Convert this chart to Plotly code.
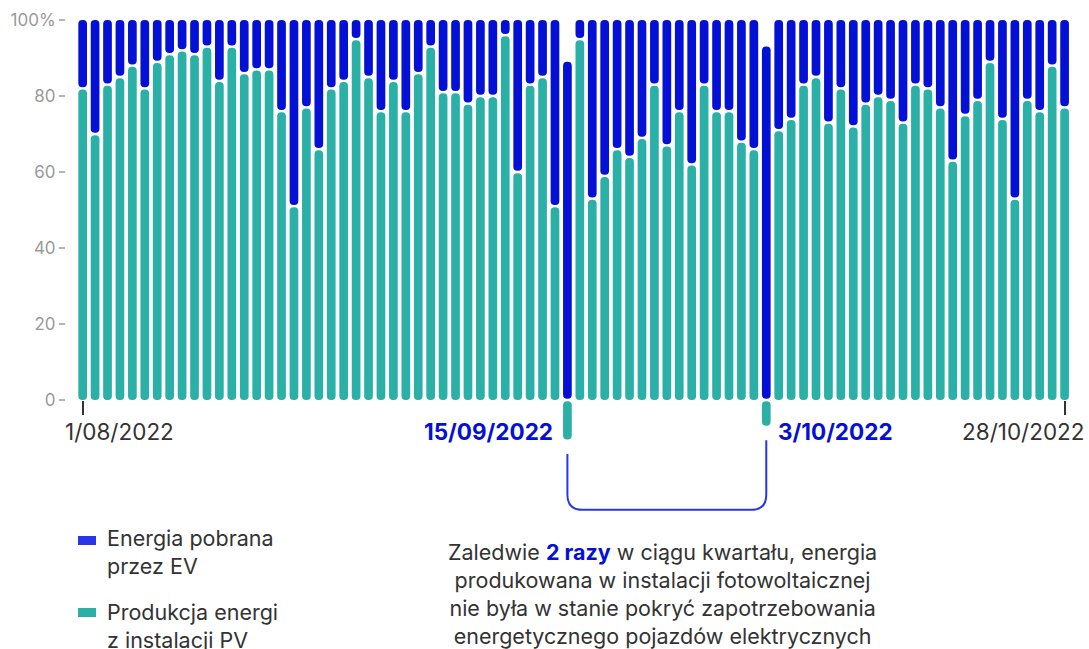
import plotly.graph_objects as go

# Daily share of EV charging energy covered by PV production (%)
days = list(range(80))
pv_share = [82, 70, 83, 85, 88, 82, 89, 91, 92, 91, 93, 84, 93, 86, 87, 87, 76, 51, 77, 66,
            82, 84, 95, 85, 76, 84, 76, 86, 93, 81, 81, 78, 80, 80, 96, 60, 83, 85, 51, -10.4,
            95, 53, 59, 66, 64, 69, 83, 67, 76, 62, 83, 76, 76, 68, 66, -6.8, 71, 74, 83, 85,
            73, 82, 72, 78, 80, 79, 73, 83, 82, 77, 63, 75, 79, 89, 74, 53, 79, 76, 88, 77]
# Top of the EV energy bar (%)
ev_top = [100, 100, 100, 100, 100, 100, 100, 100, 100, 100, 100, 100, 100, 100, 100, 100, 100, 100, 100, 100,
          100, 100, 100, 100, 100, 100, 100, 100, 100, 100, 100, 100, 100, 100, 100, 100, 100, 100, 100, 89,
          100, 100, 100, 100, 100, 100, 100, 100, 100, 100, 100, 100, 100, 100, 100, 93, 100, 100, 100, 100,
          100, 100, 100, 100, 100, 100, 100, 100, 100, 100, 100, 100, 100, 100, 100, 100, 100, 100, 100, 100]

date_idx = [0, 39, 55, 79]
date_labels = ["1/08/2022", "15/09/2022", "3/10/2022", "28/10/2022"]
y_ticks = [0, 20, 40, 60, 80, 100]
y_tick_text = ["0", "20", "40", "60", "80", "100%"]

TEAL = "#2bb0a7"
BLUE = "#0410d4"
BLUE_LIGHT = "#2537e6"
TXT = "#333333"
FONT = "Inter, 'Open Sans', sans-serif"

# figure geometry
W, H = 1089, 649
ML, MR, MT, MB = 66, 9, 15, 129
PW, PH = W - ML - MR, H - MT - MB
X_RANGE = [-1.34, 80.24]
Y_RANGE = [-31.58, 101.32]


def paper_x(px):
    return (px - ML) / PW


def paper_y(px):
    return (MT + PH - px) / PH


# split every day into a PV pill and an EV pill with a small gap between them
GAP = 0.3
teal_lo, teal_hi, blue_lo, blue_hi = [], [], [], []
for v, top in zip(pv_share, ev_top):
    lo, hi = min(v, 0), max(v, 0)
    teal_lo.append(lo)
    teal_hi.append(hi - GAP)
    blue_lo.append(hi + GAP)
    blue_hi.append(top)


def pill_trace(lo, hi, color, name):
    # bars drawn from an explicit base get both ends rounded -> pill shape
    return go.Bar(x=days, base=lo, y=[b - a for a, b in zip(lo, hi)], width=0.7,
                  name=name, showlegend=False,
                  marker=dict(color=color, cornerradius="50%", line=dict(width=0)),
                  hovertemplate="%{x}: %{base:.0f}–%{y:.0f}<extra>" + name + "</extra>")


fig = go.Figure()
fig.add_trace(pill_trace(teal_lo, teal_hi, TEAL, "Produkcja energi z instalacji PV"))
fig.add_trace(pill_trace(blue_lo, blue_hi, BLUE, "Energia pobrana przez EV"))

fig.update_layout(
    width=W, height=H,
    margin=dict(l=ML, r=MR, t=MT, b=MB),
    barmode="overlay",
    plot_bgcolor="white", paper_bgcolor="white",
    font=dict(family=FONT, color=TXT),
    xaxis=dict(range=X_RANGE, showgrid=False, zeroline=False, showline=False,
               tickvals=[date_idx[0], date_idx[-1]], showticklabels=False,
               ticks="outside", ticklen=14, tickwidth=1.5, tickcolor=TXT,
               anchor="free", position=paper_y(400)),
    yaxis=dict(range=Y_RANGE, showgrid=False, zeroline=False, showline=False,
               tickvals=y_ticks, ticktext=y_tick_text,
               ticks="outside", ticklen=6, tickwidth=1.5, tickcolor="#b5b5b5",
               tickfont=dict(size=17, color="#9a9a9a", family=FONT)),
)

# date labels under the axis
label_style = [
    dict(xanchor="left", xshift=-20, color=TXT, bold=False),
    dict(xanchor="right", xshift=-12, color=BLUE, bold=True),
    dict(xanchor="left", xshift=10, color=BLUE, bold=True),
    dict(xanchor="right", xshift=22, color=TXT, bold=False),
]
for i, lab, st in zip(date_idx, date_labels, label_style):
    txt = f"<b>{lab}</b>" if st["bold"] else lab
    fig.add_annotation(x=i, y=-8.2, xref="x", yref="y", text=txt, showarrow=False,
                       xanchor=st["xanchor"], yanchor="middle", xshift=st["xshift"],
                       font=dict(size=22.5, color=st["color"], family=FONT))

# bracket joining the two days with a PV deficit
neg = [i for i, v in enumerate(pv_share) if v < 0]
a, b = neg[0], neg[1]
ya, yb = pv_share[a] - 3.8, pv_share[b] - 3.8
y_bot = -28.9
rx, ry = 1.2, 3.95
path = (f"M {a},{ya} L {a},{y_bot + ry} Q {a},{y_bot} {a + rx},{y_bot} "
        f"L {b - rx},{y_bot} Q {b},{y_bot} {b},{y_bot + ry} L {b},{yb}")
fig.add_shape(type="path", path=path, xref="x", yref="y",
              line=dict(color=BLUE_LIGHT, width=2))

# legend built from swatches and text
legend_items = [
    (BLUE_LIGHT, "Energia pobrana<br>przez EV", 540.5, 551.5),
    (TEAL, "Produkcja energi<br>z instalacji PV", 612.5, 625.5),
]
for color, text, sw_y, txt_y in legend_items:
    fig.add_shape(type="rect", xref="paper", yref="paper",
                  x0=paper_x(78), x1=paper_x(96), y0=paper_y(sw_y - 4.5), y1=paper_y(sw_y + 4.5),
                  fillcolor=color, line=dict(width=0))
    fig.add_annotation(x=paper_x(105), y=paper_y(txt_y), xref="paper", yref="paper",
                       text=text, showarrow=False, xanchor="left", yanchor="middle",
                       align="left", font=dict(size=21.5, color=TXT, family=FONT))

note = ("Zaledwie <span style='color:" + BLUE + "'><b>2 razy</b></span> w ciągu kwartału, energia<br>"
        "produkowana w instalacji fotowoltaicznej<br>"
        "nie była w stanie pokryć zapotrzebowania<br>"
        "energetycznego pojazdów elektrycznych")
fig.add_annotation(x=paper_x(662), y=paper_y(594), xref="paper", yref="paper",
                   text=note, showarrow=False, xanchor="center", yanchor="middle",
                   align="center", font=dict(size=21.5, color=TXT, family=FONT))

fig.write_html("out.html")
